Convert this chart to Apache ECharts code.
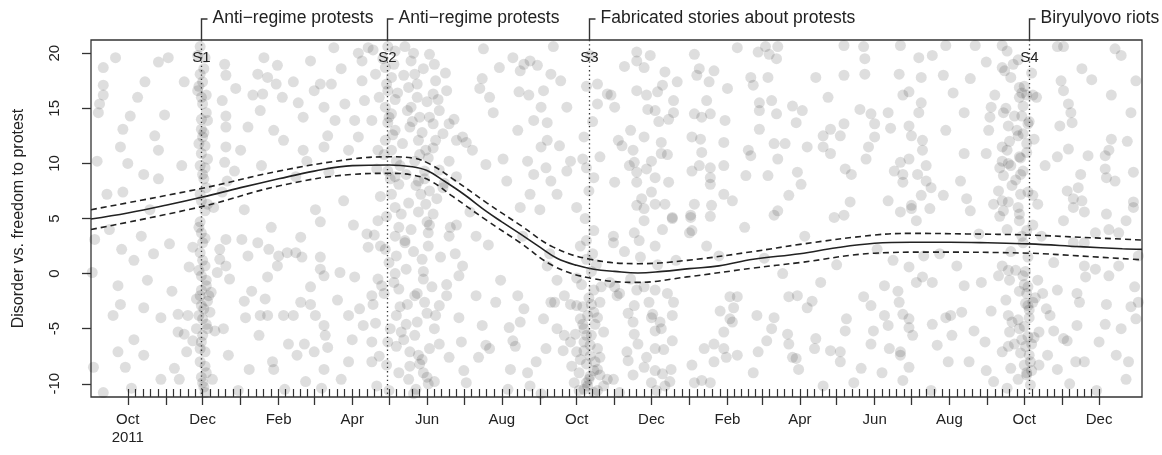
<!DOCTYPE html>
<html><head><meta charset="utf-8">
<script src="https://cdn.jsdelivr.net/npm/echarts@6/dist/echarts.min.js"></script>
<style>html,body{margin:0;padding:0;background:#fff}#c{width:1162px;height:455px}</style>
</head><body><div id="c"></div>
<script>
const DAY = 864e5;
const ORIGIN = Date.UTC(2011, 9, 1); // day 0 of the point offsets (1 Oct 2011)
const xMinDate = '2011-09-01', xMaxDate = '2014-01-05';
const monthNames = ['Jan','Feb','Mar','Apr','May','Jun','Jul','Aug','Sep','Oct','Nov','Dec'];
const yTicks = [-10, -5, 0, 5, 10, 15, 20];
const yAxisTitle = 'Disorder vs. freedom to protest';

const eventDates  = ['2011-11-30', '2012-04-29', '2012-10-11', '2013-10-05'];
const eventCodes  = ['S1', 'S2', 'S3', 'S4'];
const eventLabels = ['Anti\u2212regime protests', 'Anti\u2212regime protests', 'Fabricated stories about protests', 'Biryulyovo riots'];

// smoothed trend and its confidence band
const trendDates = ['2011-09-01','2011-10-01','2011-11-01','2011-12-01','2012-01-01','2012-02-01','2012-03-01','2012-04-01','2012-05-01','2012-05-20','2012-06-01','2012-06-15','2012-07-01','2012-07-20','2012-08-01','2012-08-16','2012-09-01','2012-09-15','2012-10-01','2012-10-15','2012-11-01','2012-11-20','2012-12-10','2013-01-01','2013-01-25','2013-02-22','2013-04-01','2013-05-01','2013-06-01','2013-07-01','2013-08-01','2013-09-01','2013-10-05','2013-11-15','2013-12-20','2014-01-05'];
const trendValues = [4.95,5.5,6.2,6.95,7.8,8.6,9.3,9.8,9.85,9.7,9.35,8.4,7.2,5.6,4.7,3.6,2.4,1.4,0.75,0.4,0.2,0.05,0.2,0.45,0.7,1.3,1.8,2.35,2.75,2.85,2.85,2.8,2.7,2.45,2.25,2.2];
const upperDates = ['2011-09-01','2011-12-01','2012-02-01','2012-04-01','2012-05-01','2012-05-20','2012-06-04','2012-06-22','2012-07-20','2012-08-16','2012-09-12','2012-10-12','2012-11-20','2012-12-30','2013-02-22','2013-04-01','2013-06-01','2013-07-01','2013-08-15','2013-10-05','2013-11-15','2014-01-05'];
const upperValues = [5.8,7.75,9.3,10.4,10.6,10.5,9.9,8.6,6.4,4.4,2.4,1.3,0.9,1.2,2.0,2.65,3.5,3.65,3.6,3.5,3.3,3.05];
const lowerDates = ['2011-09-01','2011-12-01','2012-02-01','2012-04-01','2012-05-01','2012-05-20','2012-06-04','2012-06-22','2012-07-20','2012-08-16','2012-09-12','2012-10-12','2012-11-20','2012-12-30','2013-02-22','2013-04-01','2013-06-01','2013-07-15','2013-10-05','2013-11-15','2014-01-05'];
const lowerValues = [4.0,6.1,7.95,9.0,9.1,8.95,8.4,7.0,4.8,2.8,0.7,-0.4,-0.8,-0.3,0.5,1.0,1.85,1.95,1.85,1.6,1.25];

// individual observations: [days after 1 Oct 2011, score]
const ptsUpperLeft = [[-20,18.7],[-20,17.1],[-20,16.2],[-23,15.4],[-24,14.6],[-17,7.2],[-4,7.4],[-4,13.1],[2,14.3],[14,17.4],[22,12.5],[25,8.6],[25,11.2],[13,9.0],[25,19.2],[33,19.6],[-6,11.5],
[59,20.6],[63,19.6],[59,18.1],[61,17.4],[57,16.6],[60,16.0],[61,15.4],[64,14.6],[65,13.9],[60,13.1],[61,12.4],[63,11.6],[60,10.9],[63,9.6],[61,9.0],[64,7.8],[59,7.2],[65,6.3],[63,5.7],
[79,19.0],[80,18.0],[77,15.7],[80,14.3],[80,13.3],[80,11.5],[79,10.1],[81,8.4],[77,7.4],[70,6.0],
[87,9.3],[92,11.2],[98,13.3],[102,16.2],[106,18.1],[110,16.3],[111,19.6],[114,17.8],[108,14.8],[119,13.0],[122,18.9],[121,17.2],[127,12.1],[135,17.4],[139,15.5],[143,14.2],[143,11.2],[149,19.3],[152,16.6],[157,17.2],[160,15.1],[163,12.5],[160,11.5],[166,17.2],[169,13.9],[174,18.6],[177,15.4],[180,11.2],[185,13.9],[188,12.4],[191,17.5],[193,15.7],[191,19.3],[196,20.5],[199,13.9],[202,18.1],[204,11.2],
[212,20.6],[218,20.2],[210,18.7],[215,17.8],[212,16.6],[218,15.8],[210,15.1],[215,14.5],[212,13.7],[218,13.0],[210,12.1],[215,11.2],[219,10.2],[212,9.3],[221,8.1],[215,7.2],[218,6.0],[223,5.4],[226,20.6],[231,19.3],[234,18.1],[229,16.9],[236,16.0],[231,15.1],[238,14.2],[230,13.3],[237,12.1],[243,11.2],[234,10.2],[242,9.3],[237,8.4],[246,7.5],[239,7.2],[243,6.3],[249,5.4],[246,19.9],[251,17.5],[249,16.3],[254,14.8],[249,13.6],[257,12.7],[251,12.1],[260,16.6],[262,10.2],[246,14.2],[257,7.8],
[268,12.1],[273,12.4],[276,11.9],[281,11.2],[287,16.8],[289,17.7],[292,9.9],[295,16.0],[303,18.7],[306,10.4],[314,19.6],[319,16.5],[320,18.4],[323,19.0],[328,19.3],[331,13.9],[334,18.9],[337,15.1],[339,16.6],[342,13.7],[345,18.1],[337,11.5],[341,9.6],[345,8.4],[350,7.2],[358,9.3],[358,15.1],[361,10.2],[366,6.0],[328,7.2],[320,6.0],[318,13.0],[326,10.2],[342,12.1],[331,9.0],[353,17.5],[372,12.4],[374,9.6],[380,8.7],[383,17.2],[385,10.6],[391,16.3],[400,12.1],[397,15.1],[383,15.4]];

const ptsLowerLeft = [[-27,3.1],[-5,2.2],[-8,-1.1],[-6,-2.8],[13,-3.1],[5,1.2],[11,3.4],[21,1.8],[27,-4.0],[34,2.7],[41,-3.7],[48,-7.1],[42,-9.6],[41,-5.3],[49,-3.8],[46,-5.5],[53,-6.1],[53,2.4],[-8,-7.1],[-2,-8.5],[13,-7.4],[27,-9.6],[-28,-8.5],[-29,0.1],[-20,-10.8],
[59,4.7],[60,3.7],[61,2.8],[59,1.9],[63,0.7],[60,-0.2],[64,-1.1],[59,-2.0],[65,-2.5],[60,-2.9],[67,-3.5],[61,-4.1],[65,-5.0],[60,-6.2],[63,-7.1],[59,-8.0],[64,-9.0],[61,-9.9],[63,-10.8],[71,-5.2],[78,-5.0],[75,2.2],[80,3.1],[75,1.3],[80,0.7],[83,-0.5],[73,0.1],[82,-7.4],[69,-9.6],[56,-2.3],[68,-1.7],
[93,3.1],[98,1.6],[95,-2.5],[96,-4.0],[99,-8.7],[106,2.8],[107,-5.6],[108,-3.8],[112,-2.3],[114,-3.8],[114,-0.3],[115,2.2],[119,-8.7],[118,-8.0],[122,0.7],[123,1.6],[127,-3.8],[130,1.9],[135,-3.8],[137,1.9],[141,3.3],[142,1.5],[138,-7.4],[141,-2.6],[144,-6.4],[149,-2.8],[149,-1.2],[152,-7.1],[153,-3.8],[157,1.5],[157,0.4],[160,-4.7],[160,-0.2],[161,-5.6],[160,-8.7],[163,-6.7],[157,4.7],[173,0.1],[180,-3.8],[184,4.4],[185,-0.3],[189,-3.2],[192,-4.7],[195,3.6],[196,2.4],[199,-2.0],[200,-2.8],[199,-6.2],[199,-8.0],[204,4.8],[207,-1.1],[206,2.5],[180,-8.0],[174,-9.6],
[210,2.2],[212,-6.2],[218,3.4],[219,1.6],[218,0.0],[219,-3.8],[221,-1.4],[223,-5.3],[226,2.8],[227,0.4],[227,-4.6],[231,4.0],[230,-7.1],[234,-2.0],[237,-7.4],[236,-4.4],[240,1.3],[241,-0.5],[242,-2.6],[244,4.7],[245,3.7],[241,-9.0],[244,-9.4],[246,-6.8],[248,-1.2],[250,-5.0],[229,-9.6],[233,-10.9],[245,2.5],[254,-2.9],[260,-2.0],[262,3.4],[268,4.4],[270,-0.2],[272,-6.2],[273,0.7],[274,-8.8],[276,-9.9],[284,-2.0],[284,3.4],[289,-4.7],[292,-6.5],[295,-6.8],[300,-2.6],[312,-8.7],[311,-4.9],[314,-6.1],[318,-2.0],[320,-4.4],[323,-3.2],[328,-10.2],
[350,-0.6],[356,-2.0],[361,-2.8],[366,-2.9],[369,-4.1],[372,-5.0],[374,-5.6],[377,-6.5],[380,-3.5],[381,-8.0],[377,-9.3],[383,-8.7],[374,-9.9],[372,-10.5],[380,-10.8],[364,-9.9],[361,-6.2],[356,-5.6],[366,-7.1],[350,-5.0],[374,1.3],[380,3.9],[369,2.5],[385,-2.6],[388,-5.3],[393,-0.8],[396,2.8],[399,-2.0],[391,-9.6],[383,-6.8],[342,0.7],[345,-2.6],[339,-4.1],[326,-9.0],[341,-6.8],[337,-10.9],
[380,-1.5],[377,-7.5],[374,-8.2],[371,-3.0],[381,-4.6],[378,0.2],[375,-10.2],[383,-10.6],[369,-7.8],[385,-9.2],[376,-2.2],[372,-6.2]];

const ptsUpperRight = [[415,20.1],[415,19.3],[421,18.7],[438,18.3],[394,16.2],[415,16.6],[423,16.2],[432,16.5],[436,17.1],[424,14.9],[430,14.8],[441,14.0],[445,15.7],[445,14.6],[410,13.0],[421,12.4],[435,11.9],[412,11.2],[413,10.1],[435,10.9],[423,9.5],[415,9.2],[430,8.7],[441,8.3],[415,8.3],[427,7.4],[397,8.3],[403,11.6],[415,6.2],[421,5.9],[430,6.3],[438,6.3],[444,5.1],
[462,19.9],[466,18.6],[478,18.4],[474,17.4],[464,18.0],[462,14.5],[468,14.2],[475,14.5],[472,15.7],[487,13.9],[460,12.4],[467,12.2],[486,11.9],[486,9.8],[460,9.3],[466,9.8],[475,9.6],[475,8.7],[475,8.1],[486,7.2],[493,6.6],[462,6.3],[476,6.2],[459,5.3],
[497,20.5],[514,20.1],[523,19.9],[530,20.6],[529,19.5],[508,17.8],[522,17.8],[510,17.1],[515,15.5],[515,14.8],[515,13.1],[525,15.7],[529,14.5],[542,15.2],[550,14.8],[545,13.7],[506,11.2],[508,10.7],[504,8.9],[522,8.9],[527,11.8],[530,10.4],[546,9.2],[549,8.1],[539,7.1],[530,5.7],[527,5.3],
[561,17.8],[584,18.0],[601,18.1],[601,19.5],[597,14.9],[606,14.5],[620,14.6],[609,13.6],[584,13.6],[573,13.1],[567,12.5],[554,11.5],[567,11.5],[573,10.9],[581,12.5],[609,12.4],[604,11.5],[602,10.4],[585,9.5],[589,6.5],[576,5.1],[584,5.3],[620,6.6],
[629,18.1],[632,16.2],[637,16.5],[647,15.5],[645,14.6],[645,19.6],[656,19.8],[665,18.0],[647,17.8],[687,17.7],[682,14.6],[637,13.4],[639,12.5],[648,12.1],[667,13.0],[630,10.1],[637,10.4],[625,9.3],[632,9.0],[632,8.3],[648,11.2],[651,9.8],[651,8.4],[644,9.0],[655,7.8],[647,7.1],[665,7.1],[639,6.2],[630,5.6],[639,5.9],[654,5.9],[679,8.4],[682,10.9],[687,5.7],[702,13.0],[700,10.9],
[713,18.7],[715,18.4],[707,16.2],[714,14.6],[704,15.1],[703,14.2],[713,11.5],[717,11.2],[713,10.2],[711,9.6],[714,8.9],[710,7.5],[713,6.6],[714,5.7],[706,6.3],[718,13.4],[723,14.3],[727,16.9],[730,15.2],[727,16.0],[730,12.7],[733,11.8],[727,10.6],[730,9.3],[738,7.1],[742,6.3],[738,16.2],[741,16.0],[728,7.2],[727,5.4],[734,13.6],
[722,19.0],[731,17.0],[733,16.2],[729,14.3],[735,13.8],[726,12.5],[733,11.0],[720,9.8],[724,8.5],[734,7.4],[718,6.5],[728,10.5],
[758,20.6],[763,20.6],[778,18.6],[761,17.5],[763,16.6],[767,15.4],[769,14.6],[770,13.7],[767,11.3],[758,10.6],[783,10.7],[797,10.7],[777,9.0],[797,9.5],[798,8.7],[805,8.4],[766,7.5],[771,6.8],[778,6.6],[771,6.0],[780,5.6],[798,5.4],[802,16.2],[802,12.2],[810,19.8],[820,9.2],[820,6.5],[713,20.7],[691,20.7],[667,20.7],[630,20.7],[584,20.7],[815,12.0],[822,17.5]];

const ptsLowerRight = [[396,3.4],[413,3.7],[421,4.8],[430,2.5],[436,4.0],[444,5.0],[458,3.7],[460,3.9],[459,5.1],[472,2.5],[475,5.2],
[397,-1.2],[401,-1.8],[415,-1.5],[421,-1.2],[430,-1.5],[413,-2.9],[428,-3.7],[427,-4.0],[412,-4.4],[413,-5.5],[430,-5.2],[435,-5.0],[444,-3.8],[444,-6.1],[407,-7.1],[408,-7.9],[430,-6.8],[421,-8.5],[430,-8.8],[436,-9.1],[443,-8.7],[396,-9.6],[401,-10.8],[427,-9.9],[438,-10.2],[460,-8.3],[462,-9.9],[468,-9.7],[475,-9.9],[478,-6.4],[478,-8.0],[470,-6.8],[486,-6.8],[483,-3.4],[491,-2.1],[497,-2.1],[494,-3.1],[491,-4.1],[493,-4.4],[486,-5.3],[488,-7.6],[497,-7.4],
[513,-3.8],[514,-7.1],[525,-5.0],[527,-4.0],[521,-6.1],[534,0.0],[539,-6.4],[542,-7.6],[545,-7.7],[538,-5.5],[547,-8.7],[539,-2.1],[546,-2.0],[558,-2.5],[554,-3.1],[561,-5.9],[565,-0.8],[567,-10.2],[573,-7.0],[581,-7.1],[585,-5.2],[586,-4.1],[581,-8.0],[592,-9.9],[600,-2.1],[606,-2.9],[608,-5.2],[606,-6.4],[615,-9.0],[617,-1.1],[617,-3.8],[620,-4.7],[621,-6.8],[624,1.2],[629,-2.6],[632,-3.7],[637,-4.1],[637,-4.9],[637,0.6],[640,-5.6],[643,-0.8],[648,-0.3],[649,1.6],[630,-7.1],[630,-7.4],[637,-8.5],[632,-9.7],
[656,-4.6],[660,-6.5],[667,-4.0],[671,-3.8],[669,-8.0],[672,-5.6],[680,-3.5],[686,-8.0],[676,0.7],[682,-1.1],[696,-0.8],[699,-6.2],[700,-8.8],[704,-3.4],[713,0.7],[710,-0.2],[718,0.3],[724,0.3],[713,-7.1],[718,-3.8],[719,-5.3],[723,-6.4],[727,-5.0],[730,-0.2],[734,-1.2],[734,-2.9],[738,-2.6],[737,-6.4],[733,-9.0],[742,-0.6],[746,-1.8],[743,-5.3],[743,-8.3],[749,-3.2],[750,-7.4],[755,-5.2],[758,-8.7],[758,-1.5],[755,1.0],[763,-5.9],[766,-6.1],[774,-4.7],[774,-1.8],[776,-2.6],[773,-8.0],[780,0.7],[781,-0.3],[780,-8.0],[789,0.4],[797,-4.6],[798,-2.8],[800,-0.2],[806,-7.4],[808,0.7],[814,-9.6],[821,-1.2],[822,-4.1],[824,-2.6],[711,5.2],[727,4.8],[763,4.8],[800,4.0],[808,3.7],[814,4.8],[771,2.8],[780,2.8],[789,3.7],
[731,-1.0],[733,-1.8],[732,-2.7],[735,-4.0],[731,-4.8],[734,-5.7],[732,-6.6],[735,-7.4],[731,-8.3],[733,-9.2],[736,-10.1],[732,0.2],[734,1.5],[730,2.8],[733,3.9],[735,-3.3],[729,-6.0],[737,-8.8],
[818,-3.0],[820,6.0],[816,-8.0]];

// further observations inside the dense bands and the sparse background
const ptsDenseBands = [[57,19.8],[62,18.6],[58,17.0],[64,16.2],[60,14.0],[62,12.8],[58,11.8],[65,10.4],[59,9.8],[62,8.6],[60,6.6],[58,4.2],[63,3.2],[61,1.2],[58,0.3],[64,-0.6],[60,-1.5],[62,-3.2],[58,-3.8],[64,-4.6],[61,-5.6],[59,-6.8],[63,-8.4],[60,-9.4],[62,-10.3],[66,-2.0],[56,-5.0],
[200,20.3],[205,16.0],[203,9.5],[206,7.0],[201,3.5],[204,-0.5],[202,-4.5],[205,-7.5],[203,-10.2],
[208,19.5],[211,17.2],[213,14.2],[209,10.8],[214,8.6],[211,5.2],[213,1.0],[209,-1.8],[214,-5.0],[211,-8.3],[213,-10.6],
[217,19.0],[220,16.4],[216,12.6],[222,9.8],[218,8.8],[221,4.2],[217,-0.8],[222,-3.0],[219,-6.6],[221,-9.0],
[225,18.0],[228,14.8],[224,11.8],[227,9.0],[229,6.4],[226,3.0],[228,-2.8],[225,-6.0],[230,-8.4],
[233,20.0],[236,17.2],[232,13.8],[238,10.8],[235,8.0],[237,5.6],[233,2.0],[236,-1.8],[234,-5.6],[238,-8.2],[235,-10.5],
[241,18.6],[244,15.6],[240,12.8],[245,10.5],[242,8.6],[246,4.4],[241,0.2],[244,-3.6],[240,-7.8],[245,-10.0],
[250,19.0],[253,15.8],[249,11.4],[254,9.4],[252,6.8],[255,1.5],[251,-3.8],[254,-6.4],[250,-9.8],
[259,18.2],[262,13.6],[258,8.2],[263,4.2],[260,-1.0],[262,-7.6],[266,14.0],[268,8.8],[270,-4.0],[267,1.8],
[366,-0.4],[370,-1.0],[375,-3.8],[378,-5.6],[372,-7.0],[380,-8.8],[368,-9.0],[376,-9.6],[383,-4.0],[365,-5.5],[385,-7.6],[371,-4.6],[378,-2.8],[362,-8.4],[388,-10.2],[374,3.0],[379,1.8],[368,-10.6],[382,0.8],[386,-1.2],[373,5.0],[376,7.5],[371,10.4],[379,13.8],[374,17.0],[377,19.8],
[405,2.0],[410,-0.5],[418,1.5],[425,-2.6],[432,0.8],[440,-1.8],[447,1.2],[408,-3.6],[416,-6.4],[423,-7.6],[434,-4.4],[442,-9.8],[412,-9.2],[419,6.8],[427,10.2],[433,13.8],[440,10.8],[405,18.8],[448,17.4],[426,19.8],[417,3.0],[437,-6.9],[445,-2.6],[409,9.8],[431,-10.6],
[717,20.2],[720,17.8],[716,15.0],[719,12.0],[718,10.0],[721,8.0],[717,4.0],[720,2.0],[719,-0.6],[716,-2.4],[721,-4.4],[718,-6.6],[720,-8.6],[717,-10.4],
[726,19.4],[729,16.4],[725,13.0],[728,9.0],[726,6.0],[729,3.4],[727,-1.6],[726,-4.2],[728,-7.2],[726,-9.6],
[737,18.2],[739,12.2],[738,4.4],[740,-2.2],[739,-5.8],[736,-8.0]];

const ptsBackground = [[-15,4.0],[-12,-3.8],[-10,19.6],[0,10.0],[5,-6.0],[8,16.0],[16,-0.6],[18,5.8],[30,14.4],[36,-1.6],[44,9.8],[46,17.4],[38,-8.6],[50,0.6],[-25,10.2],[3,-10.4],
[88,16.8],[95,5.8],[101,-1.6],[109,9.8],[117,4.2],[126,16.0],[131,-6.4],[137,8.8],[146,10.2],[153,5.8],[158,-10.4],[164,9.2],[171,-2.4],[176,6.6],[183,-6.0],[188,20.0],[168,20.5],[145,-9.8],[128,-10.5],[90,-10.6],
[279,5.6],[286,-7.6],[294,2.6],[298,14.6],[304,-0.6],[309,8.4],[316,-6.6],[322,3.4],[327,16.2],[333,-8.0],[336,5.8],[344,1.8],[348,-2.6],[352,11.6],[355,-7.0],[290,20.4],[310,-10.5],[347,20.6],
[468,11.0],[482,1.6],[489,16.8],[503,4.2],[510,-9.0],[519,1.4],[536,11.8],[552,3.4],[560,-6.8],[571,16.0],[578,0.8],[590,9.0],[598,-8.6],[611,2.2],[622,13.2],[628,-1.6],[643,4.8],[655,-10.6],[662,1.8],[673,16.4],[690,-5.2],[694,3.6],[700,19.2],[706,-9.8],[520,20.6],[600,20.6],[656,-0.8],[684,6.8],
[748,9.8],[752,-3.8],[760,13.4],[768,-10.0],[775,7.8],[786,17.6],[792,-6.2],[800,11.2],[810,-5.0],[818,14.6],[824,1.6],[790,-10.6],[805,20.4],[745,3.4]];

// ---------- build ----------
const FONT = '"Liberation Sans", Arial, Helvetica, sans-serif';
const INK = '#222';
const toTime = d => Date.parse(d);
const xMin = toTime(xMinDate), xMax = toTime(xMaxDate);

const monthTicks = [];
for (let y = 2011, m = 9; y < 2013 || (y === 2013 && m <= 11); m++) {
  if (m > 11) { m = 0; y++; }
  monthTicks.push(Date.UTC(y, m, 1));
}
const labelTicks = monthTicks.filter((t, i) => i % 2 === 0);
const rugTicks = [];
for (let i = 0; i < monthTicks.length - 1; i++) {
  const a = monthTicks[i], b = monthTicks[i + 1];
  for (let k = 0; k < 5; k++) rugTicks.push(a + (b - a) * k / 5);
}
rugTicks.push(monthTicks[monthTicks.length - 1]);

const allPts = [].concat(ptsUpperLeft, ptsLowerLeft, ptsUpperRight, ptsLowerRight, ptsDenseBands, ptsBackground)
  .map(p => [ORIGIN + p[0] * DAY, p[1]]);
const pair = (ds, vs) => ds.map((d, i) => [toTime(d), vs[i]]);

const chart = echarts.init(document.getElementById('c'), null, { renderer: 'canvas' });
chart.setOption({
  animation: false,
  backgroundColor: '#fff',
  textStyle: { fontFamily: FONT },
  grid: { left: 91, right: 20, top: 40, bottom: 58, show: true, borderColor: '#333', borderWidth: 1.3, backgroundColor: 'transparent' },
  xAxis: [{
    type: 'value', min: xMin, max: xMax, position: 'bottom',
    axisLine: { show: false, onZero: false },
    splitLine: { show: false },
    axisTick: { show: true, length: 8, customValues: monthTicks, lineStyle: { color: '#333', width: 1.3 } },
    axisLabel: {
      customValues: labelTicks, margin: 14, color: INK, fontSize: 15, fontFamily: FONT, lineHeight: 18,
      formatter: v => { const d = new Date(v); const m = d.getUTCMonth(); return (d.getUTCFullYear() === 2011 && m === 9) ? monthNames[m] + '\n2011' : monthNames[m]; }
    }
  }, {
    type: 'value', min: xMin, max: xMax, position: 'bottom',
    axisLine: { show: false, onZero: false }, splitLine: { show: false }, axisLabel: { show: false },
    axisTick: { show: true, inside: true, length: 8, customValues: rugTicks, lineStyle: { color: '#333', width: 1.2 } }
  }],
  yAxis: {
    type: 'value', min: -11.2, max: 21.2,
    name: yAxisTitle, nameLocation: 'middle', nameGap: 64,
    nameTextStyle: { color: INK, fontSize: 16, fontFamily: FONT },
    axisLine: { show: false }, splitLine: { show: false },
    axisTick: { show: true, length: 9, customValues: yTicks, lineStyle: { color: '#333', width: 1.3 } },
    axisLabel: { customValues: yTicks, rotate: 90, margin: 29, color: INK, fontSize: 15, fontFamily: FONT }
  },
  series: [
    { type: 'scatter', data: allPts, symbolSize: 11, itemStyle: { color: 'rgba(0,0,0,0.16)' }, silent: true, z: 1 },
    { type: 'line', data: pair(trendDates, trendValues), smooth: 0.4, symbol: 'none', lineStyle: { color: '#222', width: 1.6 }, z: 3 },
    { type: 'line', data: pair(upperDates, upperValues), smooth: 0.4, symbol: 'none', lineStyle: { color: '#222', width: 1.6, type: [6, 4] }, z: 3 },
    { type: 'line', data: pair(lowerDates, lowerValues), smooth: 0.4, symbol: 'none', lineStyle: { color: '#222', width: 1.6, type: [6, 4] }, z: 3 },
    {
      type: 'custom', clip: false, silent: true, z: 4,
      data: eventDates.map((d, i) => [toTime(d), i]),
      encode: { x: 0, y: 1 },
      renderItem: (params, api) => {
        const cs = params.coordSys;
        const i = api.value(1);
        const px = Math.round(api.coord([api.value(0), 0])[0]) + 0.5;
        const top = cs.y, bottom = cs.y + cs.height;
        return { type: 'group', children: [
          { type: 'line', shape: { x1: px, y1: top, x2: px, y2: bottom }, style: { stroke: '#333', lineWidth: 1.3, lineDash: [1.3, 3] } },
          { type: 'polyline', shape: { points: [[px, top], [px, top - 21], [px + 6, top - 21]] }, style: { stroke: '#333', lineWidth: 1.4, fill: null } },
          { type: 'text', x: px + 11, y: top - 22, style: { text: eventLabels[i], fontSize: 17.5, fontFamily: FONT, fill: INK, align: 'left', verticalAlign: 'middle' } },
          { type: 'text', x: px, y: top + 18, style: { text: eventCodes[i], fontSize: 15, fontFamily: FONT, fill: INK, align: 'center', verticalAlign: 'middle' } }
        ] };
      }
    }
  ]
});
</script>
</body></html>
